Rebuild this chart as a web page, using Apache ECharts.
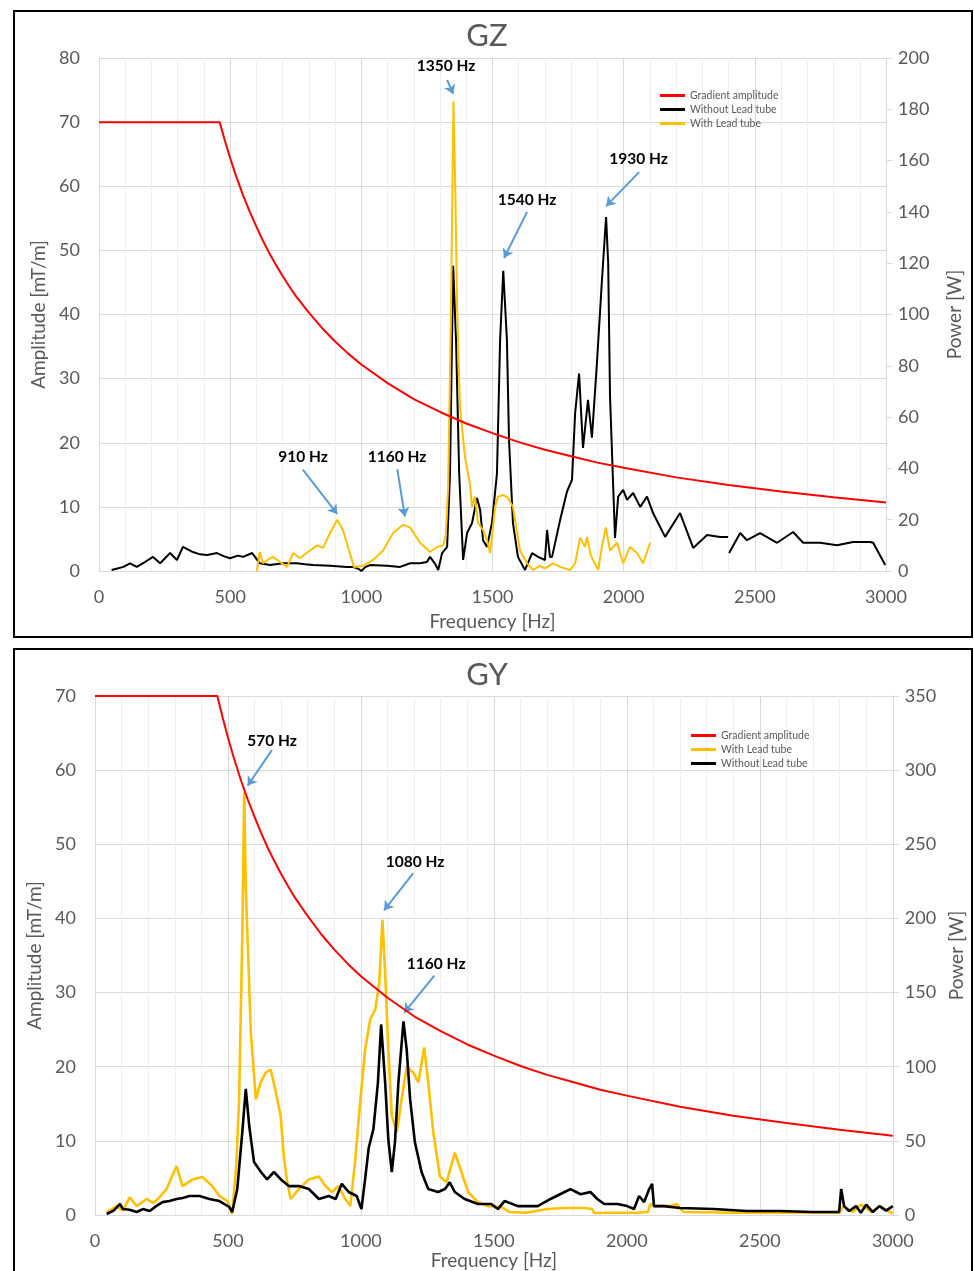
<!DOCTYPE html>
<html>
<head>
<meta charset="utf-8">
<script src="https://cdn.jsdelivr.net/npm/echarts@6/dist/echarts.min.js"></script>
<style>
  html, body { margin: 0; padding: 0; background: #fff; }
  #chart { position: absolute; left: 0; top: 0; width: 974px; height: 1271px; }
  .frame { position: absolute; border: 2px solid #000; pointer-events: none; box-sizing: border-box; }
</style>
</head>
<body>
<div id="chart"></div>
<div class="frame" style="left:13px; top:10px; width:960px; height:628px;"></div>
<div class="frame" style="left:13px; top:648px; width:960px; height:640px;"></div>
<script>
// ---------------- DATA ----------------
const tickFreq = [0, 500, 1000, 1500, 2000, 2500, 3000];
const chartTitles = ['GZ', 'GY'];
const seriesNames = ['Gradient amplitude', 'Without Lead tube', 'With Lead tube'];

// Gradient amplitude [mT/m] vs frequency [Hz]
const gradFreq = [0, 460, 480, 500, 520, 550, 575, 600, 625, 650, 675, 700, 725, 750, 800, 850, 900, 950, 1000, 1100, 1200, 1300, 1400, 1500, 1600, 1700, 1800, 1900, 2000, 2200, 2400, 2600, 2800, 3000];
const gradAmp  = [70, 70, 67.1, 64.4, 61.9, 58.5, 56.0, 53.7, 51.5, 49.5, 47.7, 46.0, 44.4, 42.9, 40.3, 37.9, 35.8, 33.9, 32.2, 29.3, 26.8, 24.8, 23.0, 21.5, 20.1, 18.9, 17.9, 16.9, 16.1, 14.6, 13.4, 12.4, 11.5, 10.7];

// GZ power [W]
const gzWithout = [[48,0.4],[70,1.0],[93,1.6],[118,3.0],[144,1.6],[175,3.5],[206,5.5],[233,3.0],[271,7.0],[297,4.3],[320,9.4],[358,7.4],[385,6.5],[412,6.2],[450,7.0],[475,5.8],[499,5.0],[530,6.0],[549,5.5],[584,7.0],[613,3.0],[652,2.3],[701,3.0],[754,3.0],[785,2.6],[816,2.3],[881,2.0],[945,1.6],[968,1.6],[990,0.8],[1000,0],[1015,1.5],[1033,2.3],[1098,2.0],[1148,1.6],[1186,3.0],[1224,3.0],[1250,3.5],[1262,5.5],[1280,3],[1293,0.4],[1308,7.0],[1327,9.4],[1338,38],[1350,119],[1361,90],[1373,38],[1388,4.3],[1403,14.8],[1422,18.7],[1441,28.5],[1453,23.8],[1464,12],[1479,9.4],[1498,18.7],[1517,38],[1529,90],[1541,117],[1555,90],[1563,51],[1578,18.7],[1597,5.5],[1624,0.4],[1651,7],[1674,5.5],[1700,4.3],[1708,16],[1719,5.5],[1727,5.5],[1758,20],[1784,31],[1803,35.5],[1815,61.6],[1830,77],[1845,48],[1864,66.7],[1879,52],[1898,81],[1917,113],[1933,138],[1941,120],[1948,68],[1967,12.9],[1979,29],[1998,31.6],[2013,27.7],[2036,30.4],[2063,25],[2089,29],[2112,22.6],[2158,13.3],[2215,22.6],[2265,9],[2318,14],[2368,13.3],[2398,13.3],[2400,null],[2402,7],[2444,14.8],[2470,12],[2520,14.8],[2585,11],[2646,15.2],[2684,11],[2749,11],[2813,10],[2875,11.3],[2939,11.3],[2951,11],[2997,2.3]];
const gzWith = [[602,0],[613,7.4],[625,3],[645,4.5],[663,5.5],[690,3.5],[717,1.6],[740,7],[766,5],[785,6.5],[804,8],[831,10],[854,9],[881,14.8],[908,20],[930,16],[949,9.4],[972,1.6],[1007,2],[1045,4.3],[1083,8],[1121,14.8],[1159,18],[1186,17],[1224,11],[1262,7.4],[1289,9.4],[1312,10],[1322,14],[1331,33],[1342,103],[1351,183],[1358,150],[1365,103],[1376,64],[1395,44.5],[1414,34],[1422,25],[1433,29],[1445,18.7],[1464,16],[1479,12],[1491,7],[1510,25],[1521,29],[1541,29.6],[1559,28.5],[1578,25],[1594,14.8],[1605,8],[1632,3],[1655,0.4],[1680,2],[1700,1],[1731,3],[1760,1.5],[1796,0.4],[1815,3],[1834,13],[1853,9.4],[1860,13.3],[1875,6],[1903,0.4],[1917,9.4],[1932,17],[1948,8],[1975,11],[1998,3],[2024,9.4],[2051,7],[2074,3],[2101,11]];

// GY power [W]
const gyWithout = [[44,0.7],[70,3],[94,7.4],[105,4],[130,3.5],[157,2],[180,4],[206,2.7],[230,6],[254,8.7],[280,9.5],[307,10.8],[330,11.5],[355,12.8],[393,12.8],[430,10.8],[468,9.4],[505,5.4],[516,2],[535,17.5],[554,56],[567,85],[580,60],[598,35.7],[624,29],[647,24],[673,29],[699,24],[729,19.5],[767,19.5],[804,17.5],[842,10.8],[879,12.8],[905,10.8],[928,21],[954,15.5],[984,12.8],[1002,4],[1017,26],[1029,45],[1047,58],[1064,89.5],[1076,128.5],[1091,89.5],[1103,51],[1116,29],[1128,49],[1141,89.5],[1160,130.6],[1172,111.7],[1185,78],[1203,49],[1228,29],[1253,17.5],[1290,15.5],[1316,17.5],[1334,22],[1353,15.5],[1390,10.8],[1440,7.4],[1490,7.4],[1515,4],[1540,9.4],[1590,6],[1665,6],[1713,10.8],[1766,15.5],[1788,17.5],[1826,14],[1863,15.5],[1889,10.8],[1915,7.4],[1964,7.4],[2001,6],[2027,4],[2046,12.8],[2065,8.7],[2084,17.5],[2095,21],[2102,6],[2140,6],[2200,4.7],[2327,4],[2450,2.7],[2574,2.7],[2700,2],[2798,2],[2806,17.5],[2817,6],[2836,2.7],[2862,6],[2880,1.5],[2900,7],[2925,2],[2950,6],[2975,3],[3000,6]];
const gyWith = [[44,2],[81,6],[105,3],[131,12],[157,6],[194,10.8],[220,8],[243,12],[269,17.5],[307,33],[329,19.5],[367,24],[404,25.6],[441,19.5],[468,12.8],[498,9.4],[516,0.7],[531,33],[542,78],[555,200],[561,285],[567,220],[573,190],[586,123],[605,78],[623,89.5],[642,96],[661,98],[680,83],[698,67],[711,37.7],[723,22],[736,10.8],[767,17.5],[804,24],[842,26],[867,19.5],[891,15.5],[916,19.5],[941,10.8],[960,6],[979,37.7],[998,78],[1016,111.7],[1035,132],[1054,138.6],[1069,157],[1081,199],[1091,163.5],[1103,111.7],[1116,67],[1135,56],[1153,78],[1172,100],[1197,96],[1216,89.5],[1238,113],[1253,89.5],[1272,56],[1297,26],[1322,22],[1353,42],[1378,29],[1403,15.5],[1440,8.7],[1478,6],[1527,5.4],[1560,2],[1620,1.5],[1702,4],[1766,4.7],[1840,4.7],[1870,4],[1877,1.3],[1950,1.5],[2040,1.5],[2080,2],[2088,7.4],[2102,6],[2162,6],[2188,7.4],[2214,2],[2400,1.5],[2600,1.5],[2800,1.5],[2813,6],[2850,2],[2880,7],[2920,2],[2950,6],[3000,1]];

// Annotations (data coordinates, left axis units): label, label position, arrow start, arrow end
const gzNotes = [
  ['1350 Hz', [1323, 78.8], [1327, 76.6], [1350, 74.4]],
  ['1540 Hz', [1632, 57.8], [1632, 56.0], [1544, 48.8]],
  ['1930 Hz', [2057, 64.3], [2059, 62.2], [1933, 56.9]],
  ['910 Hz',  [778, 17.8],  [777, 15.8],  [908, 8.9]],
  ['1160 Hz', [1136, 17.8], [1137, 15.9], [1166, 8.5]]
];
const gyNotes = [
  ['570 Hz',  [666, 63.9],  [665, 62.7],  [574, 57.9]],
  ['1080 Hz', [1204, 47.6], [1197, 46.1], [1087, 41.1]],
  ['1160 Hz', [1283, 33.8], [1276, 32.3], [1163, 27.3]]
];

// ---------------- CHART ----------------
const FONT = 'Lato, "Open Sans", sans-serif';
const GRAY = '#595959';
const GRID = '#D9D9D9';
const MINOR = '#EFEFEF';
const RED = '#FF0000', BLACK = '#000000', YELLOW = '#FFC000';
const TICK_FS = 18, NAME_FS = 19;

const gradData = gradFreq.map((f, i) => [f, gradAmp[i]]);

function notesMarkers(notes) {
  return {
    markPoint: {
      silent: true, animation: false,
      symbol: 'rect', symbolSize: 1,
      itemStyle: { color: 'rgba(0,0,0,0)' },
      label: { show: true, position: 'inside', color: '#000', fontFamily: FONT, fontWeight: 'bold', fontSize: 15.5,
               formatter: p => p.name },
      data: notes.map(n => ({ name: n[0], coord: n[1] }))
    },
    markLine: {
      silent: true, animation: false,
      symbol: ['none', 'arrow'], symbolSize: 9,
      lineStyle: { color: '#5B9BD5', width: 2, type: 'solid', opacity: 1 },
      itemStyle: { color: '#5B9BD5' },
      label: { show: false },
      emphasis: { disabled: true },
      data: notes.map(n => [{ coord: n[2] }, { coord: n[3] }])
    }
  };
}

function xAxisCfg(gi, gap) {
  return {
    gridIndex: gi, type: 'value', min: 0, max: 3000, interval: 500,
    name: 'Frequency [Hz]', nameLocation: 'middle', nameGap: gap,
    nameTextStyle: { color: GRAY, fontFamily: FONT, fontSize: NAME_FS },
    axisLine: { show: true, lineStyle: { color: GRID, width: 1 } },
    axisTick: { show: false },
    axisLabel: { color: GRAY, fontFamily: FONT, fontSize: TICK_FS, margin: 17,
                 formatter: v => tickFreq.indexOf(v) >= 0 ? String(v) : '' },
    splitLine: { show: true, lineStyle: { color: GRID, width: 1 } },
    minorTick: { show: false, splitNumber: 5 },
    minorSplitLine: { show: true, lineStyle: { color: MINOR, width: 1 } }
  };
}
function leftAxisCfg(gi, max, gap) {
  return {
    gridIndex: gi, type: 'value', position: 'left', min: 0, max: max, interval: 10,
    name: 'Amplitude [mT/m]', nameLocation: 'middle', nameGap: gap, nameRotate: 90,
    nameTextStyle: { color: GRAY, fontFamily: FONT, fontSize: NAME_FS },
    axisLine: { show: false }, axisTick: { show: false },
    axisLabel: { color: GRAY, fontFamily: FONT, fontSize: TICK_FS, margin: 19 },
    splitLine: { show: true, lineStyle: { color: GRID, width: 1 } }
  };
}
function rightAxisCfg(gi, max, interval, gap) {
  return {
    gridIndex: gi, type: 'value', position: 'right', min: 0, max: max, interval: interval,
    name: 'Power [W]', nameLocation: 'middle', nameGap: gap, nameRotate: 90,
    nameTextStyle: { color: GRAY, fontFamily: FONT, fontSize: NAME_FS },
    axisLine: { show: true, lineStyle: { color: GRID, width: 1 } },
    axisTick: { show: true, inside: false, length: 6, lineStyle: { color: GRID } },
    axisLabel: { color: GRAY, fontFamily: FONT, fontSize: TICK_FS, margin: 12 },
    splitLine: { show: false }
  };
}
function lineSeries(name, color, xi, yi, data, width, z) {
  return { name: name, type: 'line', xAxisIndex: xi, yAxisIndex: yi, data: data,
           color: color, showSymbol: false, symbol: 'none', z: z,
           lineStyle: { color: color, width: width }, connectNulls: false,
           emphasis: { disabled: true }, animation: false };
}

const chart = echarts.init(document.getElementById('chart'), null, { renderer: 'canvas' });

const redTop = lineSeries(seriesNames[0], RED, 0, 0, gradData, 2, 5);
Object.assign(redTop, notesMarkers(gzNotes));
const redBot = lineSeries(seriesNames[0], RED, 1, 2, gradData, 2, 5);
Object.assign(redBot, notesMarkers(gyNotes));

const legendCommon = {
  orient: 'vertical', icon: 'rect', itemWidth: 25, itemHeight: 3, itemGap: 1,
  textStyle: { color: GRAY, fontFamily: FONT, fontSize: 10.5, lineHeight: 13 },
  selectedMode: false
};

chart.setOption({
  animation: false,
  backgroundColor: '#ffffff',
  title: [
    { text: chartTitles[0], left: 'center', top: 15, textStyle: { color: GRAY, fontFamily: FONT, fontSize: 31, fontWeight: 'normal' } },
    { text: chartTitles[1], left: 'center', top: 654, textStyle: { color: GRAY, fontFamily: FONT, fontSize: 31, fontWeight: 'normal' } }
  ],
  legend: [
    Object.assign({ left: 655, top: 84, data: [seriesNames[0], seriesNames[1], seriesNames[2]] }, legendCommon),
    Object.assign({ left: 686, top: 724, data: [seriesNames[0], seriesNames[2], seriesNames[1]] }, legendCommon)
  ],
  grid: [
    { left: 99, top: 58, width: 787, height: 513 },
    { left: 95, top: 696, width: 802, height: 520 }
  ],
  xAxis: [ xAxisCfg(0, 41), xAxisCfg(1, 36) ],
  yAxis: [ leftAxisCfg(0, 80, 47), rightAxisCfg(0, 200, 20, 59), leftAxisCfg(1, 70, 47), rightAxisCfg(1, 350, 50, 51) ],
  series: [
    redTop,
    lineSeries(seriesNames[1], BLACK, 0, 1, gzWithout, 2, 3),
    lineSeries(seriesNames[2], YELLOW, 0, 1, gzWith, 2, 4),
    redBot,
    lineSeries(seriesNames[2], YELLOW, 1, 3, gyWith, 2.6, 3),
    lineSeries(seriesNames[1], BLACK, 1, 3, gyWithout, 2.6, 4)
  ]
});
</script>
</body>
</html>
